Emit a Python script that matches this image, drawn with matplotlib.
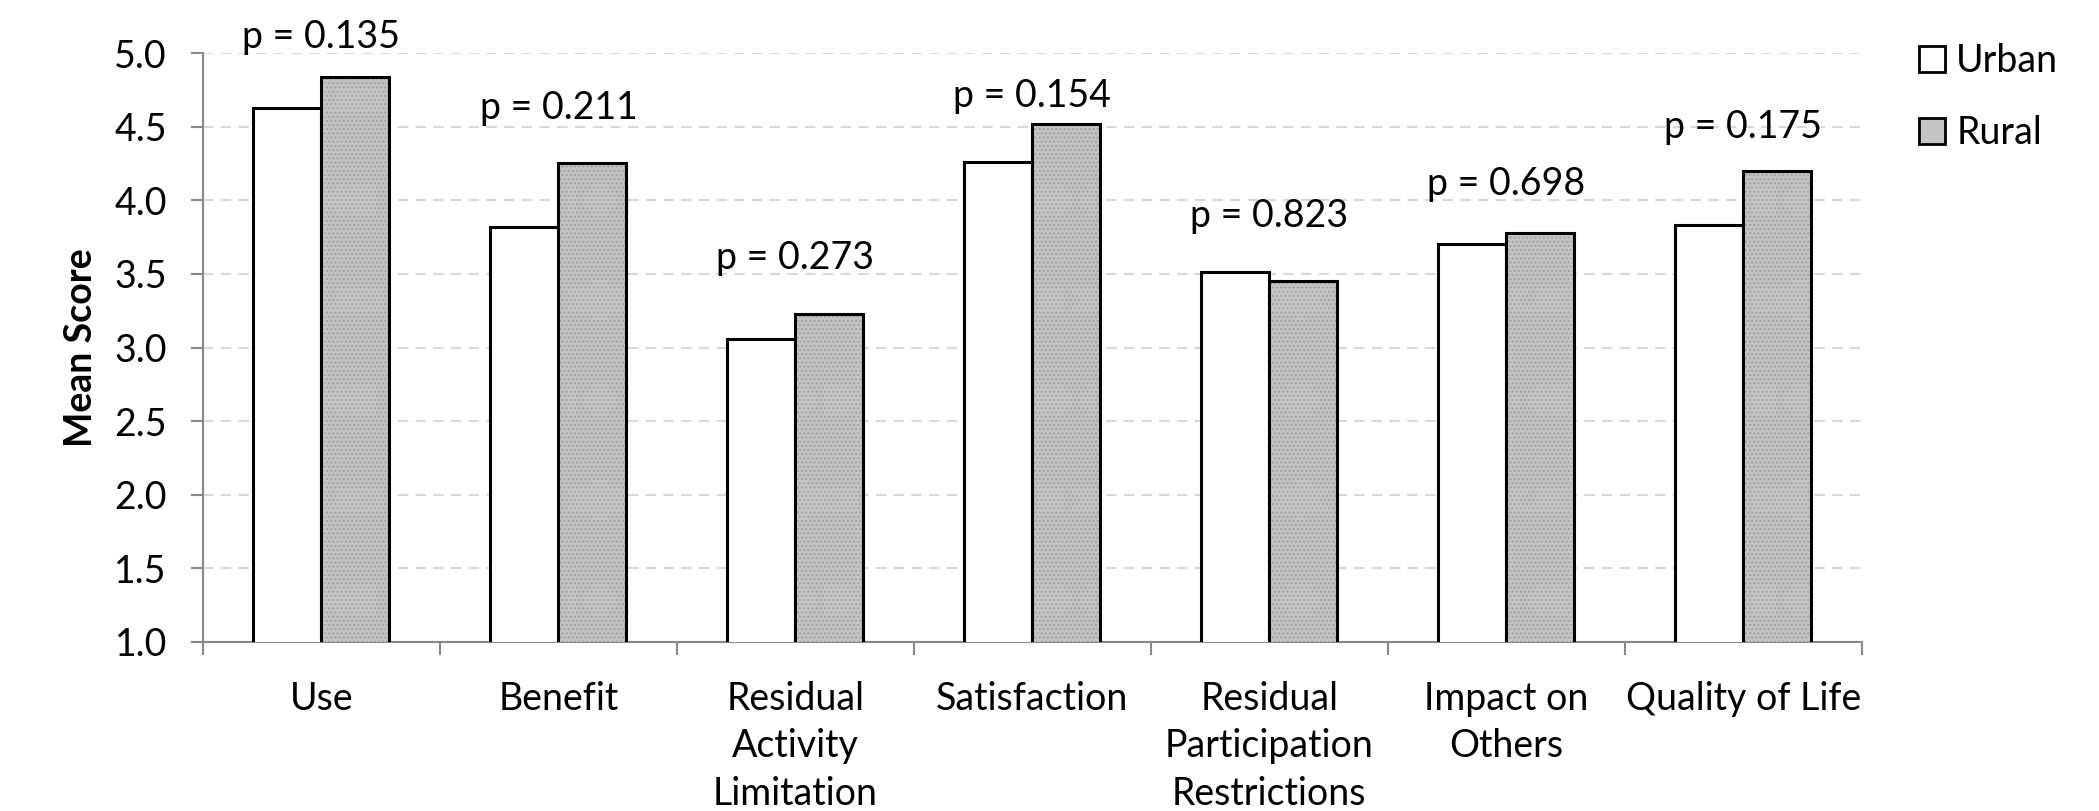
import numpy as np
import matplotlib.pyplot as plt

plt.rcParams['font.family'] = ['Lato', 'DejaVu Sans']

categories = ['Use', 'Benefit', 'Residual\nActivity\nLimitation', 'Satisfaction',
              'Residual\nParticipation\nRestrictions', 'Impact on\nOthers', 'Quality of Life']
urban = [4.63, 3.82, 3.06, 4.26, 3.51, 3.70, 3.83]
rural = [4.84, 4.25, 3.23, 4.52, 3.45, 3.78, 4.20]
p_text = ['p = 0.135', 'p = 0.211', 'p = 0.273', 'p = 0.154', 'p = 0.823', 'p = 0.698', 'p = 0.175']
p_y = [5.11, 4.63, 3.61, 4.71, 3.89, 4.11, 4.50]
yticks = [1.0, 1.5, 2.0, 2.5, 3.0, 3.5, 4.0, 4.5, 5.0]

fs = 27
gray = '#898989'

fig = plt.figure(figsize=(20.99, 8.11), dpi=100)
ax = fig.add_axes([0.0967, 0.2084, 0.7903, 0.7262])

x = np.arange(len(categories))
w = 0.287

ax.bar(x - w/2, urban, w, color='white', edgecolor='black', linewidth=2.2, zorder=3)
# rural: gray fill with dotted texture, then black outline on top
ax.bar(x + w/2, rural, w, color='#c4c4c4', edgecolor='#a2a2a2', linewidth=0, hatch='....', zorder=3)
ax.bar(x + w/2, rural, w, color='none', edgecolor='black', linewidth=2.2, zorder=4)

for i in range(len(categories)):
    ax.text(x[i], p_y[i], p_text[i], ha='center', va='center', fontsize=fs, zorder=5)

ax.set_ylim(1.0, 5.0)
ax.set_xlim(-0.5, len(categories) - 0.5)
ax.set_yticks(yticks)
ax.set_yticklabels(['%.1f' % v for v in yticks], fontsize=fs)
ax.yaxis.grid(True, color='#d9d9d9', linestyle=(0, (5, 3.5)), linewidth=1.5, zorder=0)
ax.set_axisbelow(True)

ax.set_xticks(x)
ax.set_xticklabels(categories, fontsize=fs, linespacing=1.4, va='top')
ax.set_xticks(np.arange(len(categories) + 1) - 0.5, minor=True)
ax.tick_params(axis='x', which='major', length=0, pad=28)
ax.tick_params(axis='x', which='minor', length=9, width=1.5, color=gray, direction='out')
ax.tick_params(axis='y', length=9, width=1.5, color=gray, direction='out', pad=17)

for s in ['top', 'right']:
    ax.spines[s].set_visible(False)
for s in ['left', 'bottom']:
    ax.spines[s].set_color(gray)
    ax.spines[s].set_linewidth(1.5)

ax.set_ylabel('Mean Score', fontsize=fs, fontweight='bold', labelpad=12)

h1 = plt.Rectangle((0, 0), 1, 1, facecolor='white', edgecolor='black', linewidth=2)
h2 = plt.Rectangle((0, 0), 1, 1, facecolor='#c4c4c4', edgecolor='black', linewidth=2)
fig.legend([h1, h2], ['Urban', 'Rural'], loc='upper left', bbox_to_anchor=(0.898, 0.988),
           frameon=False, fontsize=fs, handlelength=0.7, handleheight=0.7,
           handletextpad=0.3, labelspacing=0.95)

fig.savefig('out.png', dpi=100)
